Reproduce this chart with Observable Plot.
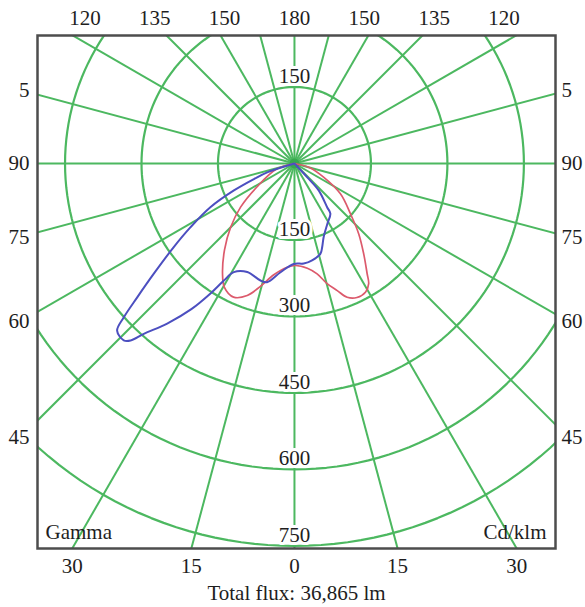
<!DOCTYPE html>
<html>
<head>
<meta charset="utf-8">
<script src="https://cdn.jsdelivr.net/npm/d3@7"></script>
<script src="https://cdn.jsdelivr.net/npm/@observablehq/plot@0.6"></script>
<style>
  html, body { margin: 0; padding: 0; background: #fff; }
</style>
</head>
<body>
<div id="chart"></div>
<script>
// ---- data (gamma in degrees measured from nadir, negative = left half; intensity in cd/klm)
const redGamma = [-90, -73, -58, -51, -45, -39, -33, -29.5, -24.5, -19.7, -15.5, -10.5, -4, 0.6, 7, 11.6, 15.2, 18.6, 21.5, 25, 29, 31.7, 33.4, 37.5, 42.4, 48, 56.6, 65, 75, 90];
const redCd    = [0, 36, 87, 136, 177, 218, 259, 279, 288, 275, 250, 222, 204, 200, 207, 221, 244, 263, 282, 290, 288, 277, 259, 223, 187, 148, 108, 63, 30, 0];

const blueGamma = [-72, -72, -69, -66, -62.5, -58.5, -55.3, -51.9, -49.6, -48, -46.7, -44, -42.8, -41.5, -38.5, -35.3, -32.8, -31.1, -29.2, -23.5, -16.2, -13, -7.3, -0.4, 5.3, 10.3, 16.1, 18.3, 21.7, 28.5, 35.6, 36.8, 42, 42.8, 45];
const blueCd    = [0, 55, 85, 130, 186, 239, 288, 351, 405, 450, 478, 482, 473, 446, 401, 350, 302, 268, 244, 232, 239, 239, 215, 197, 197, 193, 184, 173, 155, 135, 121, 107, 71, 37, 0];

// grid
const ringValues = [150, 300, 450, 600, 750];
const ringLabels = ["150", "300", "450", "600", "750"];
const spokeAngles = [0, 15, 30, 45, 60, 75, 90, 105, 120, 135, 150, 165, 180, 195, 210, 225, 240, 255, 270, 285, 300, 315, 330, 345];

// tick labels
const topLabels = ["120", "135", "150", "180", "150", "135", "120"];
const sideGamma = [105, 90, 75, 60, 45];
const sideLabels = ["5", "90", "75", "60", "45"];
const bottomGamma = [-30, -15, 0, 15, 30];
const bottomLabels = ["30", "15", "0", "15", "30"];
const caption = "Total flux: 36,865 lm";

// ---- geometry helpers
const rad = d => d * Math.PI / 180;
const toXY = (g, r) => ({x: r * Math.sin(rad(g)), y: -r * Math.cos(rad(g))});

const xDomain = [-504, 512];
const yDomain = [-755, 251];
const yBottom = yDomain[0];
const labelCol = 537;   // distance (cd units) of the side label column
const topStep = 137;    // spacing of the top labels (cd units)

const redPts = redGamma.map((g, i) => toXY(g, redCd[i]));
const bluePts = blueGamma.map((g, i) => toXY(g, blueCd[i]));

const circleSteps = d3.range(0, 361, 2);
const ringPts = ringValues.flatMap(r => circleSteps.map(a => ({r, ...toXY(a, r)})));
const spokes = spokeAngles.map(a => ({a, ...toXY(a, 1400)}));

const green = "#4cb860";
const ink = "#1e1e1e";
const font = "Liberation Serif, DejaVu Serif, serif";
const fs = 21;

const chart = Plot.plot({
  width: 585,
  height: 607,
  marginLeft: 37,
  marginRight: 30,
  marginTop: 35,
  marginBottom: 59,
  x: {domain: xDomain, axis: null},
  y: {domain: yDomain, axis: null},
  style: {fontFamily: font, fontSize: fs + "px", background: "white", overflow: "visible"},
  marks: [
    Plot.line(ringPts, {x: "x", y: "y", z: "r", stroke: green, strokeWidth: 2.2, clip: true}),
    Plot.link(spokes, {x1: 0, y1: 0, x2: "x", y2: "y", stroke: green, strokeWidth: 2, clip: true}),
    Plot.dot([0], {x: 0, y: 0, r: 5, fill: "#36a84e", stroke: "none"}),
    Plot.line(redPts, {x: "x", y: "y", stroke: "#dc5a6c", strokeWidth: 1.7, curve: "catmull-rom"}),
    Plot.line(bluePts, {x: "x", y: "y", stroke: "#4c4fc0", strokeWidth: 2, curve: "catmull-rom"}),
    // ring labels
    Plot.text(["150"], {x: 0, y: ringValues[0], text: d => d, lineAnchor: "bottom", dy: -4,
      fill: ink, stroke: "white", strokeWidth: 6, fontSize: fs, fontFamily: font}),
    Plot.text(ringValues, {x: 0, y: d => -d, text: (d, i) => ringLabels[i], lineAnchor: "bottom", dy: -4,
      fill: ink, stroke: "white", strokeWidth: 6, fontSize: fs, fontFamily: font}),
    // corner labels
    Plot.text(["Gamma"], {frameAnchor: "bottom-left", text: d => d, dx: 8, dy: -10, fill: ink, fontSize: fs, fontFamily: font}),
    Plot.text(["Cd/klm"], {frameAnchor: "bottom-right", text: d => d, dx: -9, dy: -10, fill: ink, fontSize: fs, fontFamily: font}),
    // top labels
    Plot.text(topLabels, {x: (d, i) => (i - 3) * topStep, frameAnchor: "top", text: d => d, lineAnchor: "middle", dy: -17,
      fill: ink, fontSize: fs, fontFamily: font}),
    // bottom labels
    Plot.text(bottomGamma, {x: d => -yBottom * Math.tan(rad(d)), frameAnchor: "bottom", text: (d, i) => bottomLabels[i],
      lineAnchor: "middle", dy: 18, fill: ink, fontSize: fs, fontFamily: font}),
    // side labels
    Plot.text(sideGamma, {y: d => -labelCol / Math.tan(rad(d)), frameAnchor: "left", text: (d, i) => sideLabels[i],
      textAnchor: "end", dx: -8, fill: ink, fontSize: fs, fontFamily: font}),
    Plot.text(sideGamma, {y: d => -labelCol / Math.tan(rad(d)), frameAnchor: "right", text: (d, i) => sideLabels[i],
      textAnchor: "start", dx: 6, fill: ink, fontSize: fs, fontFamily: font}),
    // caption
    Plot.text([caption], {frameAnchor: "bottom", text: d => d, lineAnchor: "middle", dy: 45, fill: ink, fontSize: fs, fontFamily: font}),
    Plot.frame({stroke: "#4d4d4d", strokeWidth: 2.5})
  ]
});
document.getElementById("chart").appendChild(chart);
</script>
</body>
</html>
